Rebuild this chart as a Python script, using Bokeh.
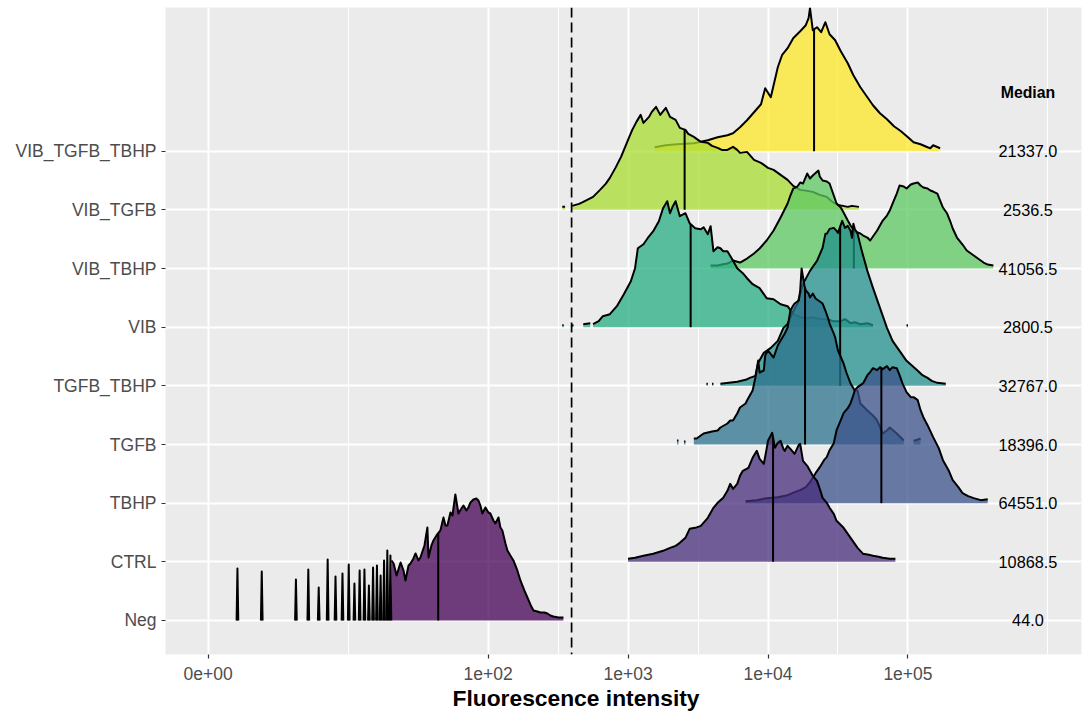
import numpy as np
from bokeh.plotting import figure
from bokeh.models import FixedTicker, Range1d, Span, Title
from bokeh.embed import file_html
from bokeh.resources import INLINE
from bokeh.core.properties import value

NAN = float("nan")

# ---------------------------------------------------------------- data
GROUPS = ["Neg", "CTRL", "TBHP", "TGFB", "TGFB_TBHP", "VIB",
          "VIB_TBHP", "VIB_TGFB", "VIB_TGFB_TBHP"]
COLORS = ["#440154", "#472D7B", "#3B528B", "#2C728E", "#21908C",
          "#27AD81", "#5DC863", "#AADC32", "#FDE725"]
MEDIANS = [44.0, 10868.5, 64551.0, 18396.0, 32767.0, 2800.5,
           41056.5, 2536.5, 21337.0]

GATE = 395  # gating threshold (dashed line)

X_BREAKS = [0, 100, 1000, 10000, 100000]
X_BREAK_LABELS = ["0e+00", "1e+02", "1e+03", "1e+04", "1e+05"]

# Each ridge: grid of log10 intensities and relative density.
# NaN entries split the ridge into separate runs (low-density gaps).
NEG_LOW_VALUES = [1, 2, 4, 5, 6, 7, 8, 9, 10, 11, 12, 13, 14, 15, 16, 17, 18, 19, 20]
NEG_LOW_DENS = [52, 49, 41, 51, 33, 61, 44, 47, 56, 37, 50, 51, 35, 53, 55, 45, 60, 70, 65]

NEG_LOGX = [1.309, 1.324, 1.345, 1.374, 1.395, 1.409, 1.431, 1.445, 1.466, 1.481,
            1.502, 1.516, 1.545, 1.566, 1.574, 1.595, 1.609, 1.631, 1.659, 1.681,
            1.695, 1.709, 1.731, 1.745, 1.766, 1.788, 1.809, 1.824, 1.845, 1.859,
            1.874, 1.895, 1.916, 1.931, 1.945, 1.959, 1.981, 2.002, 2.016, 2.038,
            2.052, 2.074, 2.088, 2.102, 2.124, 2.138, 2.159, 2.181, 2.209, 2.231,
            2.259, 2.281, 2.302, 2.324, 2.352, 2.374, 2.402, 2.424, 2.445, 2.466,
            2.502, 2.538]
NEG_DENS = [60, 57, 45, 58, 50, 40, 55, 57, 62, 67,
            60, 63, 75, 93, 63, 75, 80, 85, 90, 103,
            95, 95, 108, 105, 126, 107, 112, 115, 110, 113,
            118, 121, 122, 120, 115, 107, 113, 108, 107, 100,
            97, 103, 93, 90, 77, 70, 65, 60, 50, 40,
            30, 23, 16, 10, 9, 8, 8, 7, 5, 4,
            3, 3]

CTRL_LOGX = [3.00, 3.05, 3.11, 3.18, 3.25, 3.30, 3.34, 3.37, 3.41, 3.44,
             3.48, 3.52, 3.57, 3.61, 3.64, 3.68, 3.71, 3.73, 3.75, 3.78,
             3.80, 3.82, 3.86, 3.89, 3.92, 3.94, 3.97, 3.99, 4.00, 4.03,
             4.05, 4.07, 4.09, 4.11, 4.12, 4.14, 4.16, 4.19, 4.22, 4.23,
             4.25, 4.28, 4.30, 4.32, 4.35, 4.37, 4.39, 4.42, 4.44, 4.47,
             4.49, 4.54, 4.59, 4.64, 4.68, 4.72, 4.75, 4.79, 4.82, 4.87,
             4.91]
CTRL_DENS = [3, 4, 6, 8, 11, 14, 16, 19, 24, 33,
             34, 36, 44, 54, 59, 64, 71, 78, 73, 78,
             86, 91, 94, 104, 111, 103, 98, 113, 121, 129,
             114, 119, 121, 113, 111, 116, 113, 108, 117, 118,
             101, 96, 91, 86, 81, 73, 64, 59, 54, 48,
             41, 34, 24, 14, 8, 7, 6, 5, 4, 3,
             3]

TBHP_LOGX = [3.84, 3.92, 3.99, 4.07, 4.14, 4.19, 4.23, 4.27, 4.30, 4.34,
             4.37, 4.40, 4.42, 4.44, 4.47, 4.49, 4.52, 4.54, 4.57, 4.59,
             4.61, 4.62, 4.64, 4.68, 4.71, 4.73, 4.75, 4.78, 4.80, 4.82,
             4.85, 4.87, 4.89, 4.92, 4.94, 4.96, 4.99, 5.02, 5.04, 5.07,
             5.09, 5.11, 5.14, 5.18, 5.22, 5.25, 5.29, 5.32, 5.36, 5.39,
             5.43, 5.47, 5.52, 5.57]
TBHP_DENS = [2, 3, 5, 6, 8, 11, 13, 16, 21, 30,
             36, 43, 46, 53, 60, 73, 83, 90, 95, 100,
             108, 113, 116, 120, 128, 131, 135, 133, 136, 134,
             137, 133, 136, 135, 128, 120, 111, 106, 106, 103,
             93, 86, 78, 66, 55, 43, 33, 23, 16, 10,
             7, 5, 3, 4]

TGFB_LOGX = [3.35, 3.36, NAN, 3.40, 3.41, NAN,
             3.47, 3.49, 3.54, 3.57, 3.60, 3.64, 3.66, 3.71, 3.73, 3.75,
             3.78, 3.80, 3.84, 3.85, 3.87, 3.89, 3.91, 3.93, 3.94, 3.97,
             3.98, 4.00, 4.04, 4.07, 4.09, 4.12, 4.14, 4.16, 4.18, 4.19,
             4.22, 4.23, 4.24, 4.26, 4.27, 4.29, 4.30, 4.32, 4.34, 4.36,
             4.39, 4.41, 4.43, 4.44, 4.47, 4.48, 4.50, 4.54, 4.56, 4.59,
             4.62, 4.64, 4.66, 4.71, 4.75, 4.78, 4.82, 4.85, 4.87, 4.92,
             4.97, NAN, 5.04, 5.05, 5.09]
TGFB_DENS = [4, 4, NAN, 3, 3, NAN,
             6, 6, 11, 12, 13, 14, 17, 21, 24, 24,
             31, 37, 41, 44, 49, 54, 67, 84, 72, 74,
             89, 94, 87, 99, 104, 111, 117, 134, 139, 141,
             144, 154, 176, 159, 154, 151, 147, 151, 146, 144,
             141, 134, 126, 121, 111, 107, 94, 81, 72, 61,
             54, 54, 41, 34, 29, 24, 11, 14, 17, 11,
             4, NAN, 4, 4, 6]

TGFB_TBHP_LOGX = [3.56, 3.57, NAN, 3.60, 3.61, NAN,
                  3.66, 3.72, 3.78, 3.84, 3.87, 3.91, 3.93, 3.97, 4.02, 4.07,
                  4.11, 4.14, 4.17, 4.21, 4.23, 4.25, 4.30, 4.35, 4.39, 4.41,
                  4.42, 4.44, 4.47, 4.49, 4.50, 4.53, 4.55, 4.57, 4.59, 4.60,
                  4.61, 4.62, 4.64, 4.67, 4.71, 4.75, 4.80, 4.85, 4.89, 4.94,
                  4.99, 5.03, 5.07, 5.10, 5.14, 5.17, 5.21, 5.27]
TGFB_TBHP_DENS = [2, 2, NAN, 2, 2, NAN,
                  2, 3, 4, 6, 8, 10, 23, 33, 38, 45,
                  58, 62, 72, 82, 92, 102, 115, 125, 138, 152,
                  152, 157, 158, 155, 153, 165, 158, 160, 155, 148,
                  162, 157, 152, 135, 115, 98, 78, 58, 45, 35,
                  25, 20, 15, 11, 8, 5, 3, 2]

VIB_LOGX = [2.53, 2.54, NAN, 2.60, 2.61, NAN, 2.68, 2.73, NAN,
            2.75, 2.79, 2.82, 2.87, 2.92, 2.97, 3.02, 3.05, 3.07, 3.11,
            3.14, 3.18, 3.22, 3.25, 3.28, 3.30, 3.32, 3.34, 3.37, 3.41,
            3.44, 3.48, 3.52, 3.54, 3.57, 3.59, 3.61, 3.64, 3.66, 3.68,
            3.71, 3.74, 3.78, 3.82, 3.85, 3.89, 3.94, 3.99, 4.04, 4.09,
            4.14, 4.18, 4.23, 4.28, 4.32, 4.37, 4.42, 4.47, 4.52, 4.55,
            4.59, 4.62, 4.66, 4.71, 4.75, NAN, 4.99, 5.00]
VIB_DENS = [2, 2, NAN, 2, 2, NAN, 3, 4, NAN,
            3, 6, 11, 13, 21, 33, 46, 59, 79, 83,
            89, 96, 106, 119, 126, 114, 121, 126, 111, 114,
            104, 99, 98, 100, 93, 101, 76, 80, 79, 76,
            76, 69, 59, 54, 49, 43, 39, 29, 28, 23,
            21, 13, 10, 9, 10, 8, 8, 6, 6, 8,
            4, 5, 3, 4, 2, NAN, 2, 2]

VIB_TBHP_LOGX = [3.59, 3.64, 3.67, 3.71, 3.75, 3.80, 3.85, 3.90, 3.94, 3.99,
                 4.04, 4.09, 4.14, 4.16, 4.18, 4.21, 4.23, 4.25, 4.28, 4.30,
                 4.32, 4.36, 4.37, 4.39, 4.42, 4.44, 4.47, 4.49, 4.52, 4.54,
                 4.57, 4.59, 4.61, 4.64, 4.66, 4.68, 4.71, 4.73, 4.75, 4.78,
                 4.80, 4.82, 4.85, 4.87, 4.89, 4.92, 4.94, 4.97, 4.99, 5.02,
                 5.04, 5.07, 5.09, 5.11, 5.14, 5.16, 5.18, 5.21, 5.23, 5.25,
                 5.28, 5.30, 5.32, 5.35, 5.39, 5.42, 5.46, 5.49, 5.54, 5.57,
                 5.61]
VIB_TBHP_DENS = [3, 3, 4, 5, 8, 6, 10, 15, 20, 28,
                 38, 51, 65, 73, 80, 82, 86, 85, 95, 90,
                 93, 98, 92, 88, 87, 85, 73, 65, 61, 56,
                 48, 43, 39, 36, 35, 33, 31, 28, 32, 38,
                 43, 48, 53, 58, 65, 75, 83, 82, 80, 84,
                 85, 86, 83, 81, 80, 78, 77, 75, 68, 61,
                 55, 48, 40, 31, 24, 18, 14, 11, 6, 4,
                 3]

VIB_TGFB_LOGX = [2.53, 2.55, NAN,
                 2.60, 2.65, 2.68, 2.75, 2.80, 2.84, 2.87, 2.91, 2.95, 3.00,
                 3.03, 3.06, 3.09, 3.11, 3.15, 3.17, 3.20, 3.23, 3.27, 3.30,
                 3.34, 3.37, 3.41, 3.43, 3.47, 3.52, 3.57, 3.60, 3.64, 3.67,
                 3.71, 3.75, 3.78, 3.80, 3.85, 3.90, 3.95, 4.00, 4.04, 4.09,
                 4.14, 4.18, 4.23, 4.28, 4.32, 4.37, 4.42, 4.46, 4.50, 4.57,
                 4.60, 4.65]
VIB_TGFB_DENS = [3, 3, NAN,
                 4, 6, 8, 13, 20, 26, 32, 42, 53, 70,
                 80, 88, 95, 87, 93, 98, 103, 95, 102, 93,
                 90, 82, 80, 76, 73, 68, 67, 64, 62, 60,
                 60, 63, 60, 57, 58, 50, 47, 42, 40, 35,
                 30, 24, 20, 19, 18, 15, 13, 8, 5, 3,
                 4, 3]

VIB_TGFB_TBHP_LOGX = [3.19, 3.27, 3.35, 3.47, 3.57, 3.64, 3.71, 3.75, 3.80, 3.85,
                      3.90, 3.95, 3.98, 4.02, 4.07, 4.10, 4.14, 4.18, 4.23, 4.27,
                      4.29, 4.30, 4.32, 4.35, 4.38, 4.41, 4.44, 4.48, 4.52, 4.57,
                      4.61, 4.66, 4.71, 4.75, 4.80, 4.85, 4.90, 4.95, 5.00, 5.04,
                      5.09, 5.14, 5.16, 5.18, 5.23]
VIB_TGFB_TBHP_DENS = [4, 6, 7, 8, 11, 14, 16, 18, 24, 31,
                      39, 47, 63, 54, 84, 96, 103, 113, 120, 126,
                      133, 143, 121, 124, 119, 129, 117, 111, 100, 88,
                      76, 64, 54, 46, 38, 32, 25, 20, 14, 9,
                      7, 4, 3, 6, 3]

RIDGE_LOGX = [NEG_LOGX, CTRL_LOGX, TBHP_LOGX, TGFB_LOGX, TGFB_TBHP_LOGX,
              VIB_LOGX, VIB_TBHP_LOGX, VIB_TGFB_LOGX, VIB_TGFB_TBHP_LOGX]
RIDGE_DENS = [NEG_DENS, CTRL_DENS, TBHP_DENS, TGFB_DENS, TGFB_TBHP_DENS,
              VIB_DENS, VIB_TBHP_DENS, VIB_TGFB_DENS, VIB_TGFB_TBHP_DENS]

# ---------------------------------------------------------------- helpers
LN10 = np.log(10.0)


def pseudo_log(v):
    """Pseudo-log10 scale (asinh based, sigma = 1) used on the x axis."""
    return np.arcsinh(np.asarray(v, dtype=float) / 2.0) / LN10


def split_runs(pos, h):
    runs, cx, ch = [], [], []
    for x, y in zip(pos, h):
        if np.isnan(x) or np.isnan(y):
            if cx:
                runs.append((cx, ch))
            cx, ch = [], []
        else:
            cx.append(float(x))
            ch.append(float(y))
    if cx:
        runs.append((cx, ch))
    return runs


RIDGE_SCALE = 3.0          # tallest ridge spans three rows
SPIKE_HALF = 0.006         # half width of single-value spikes (axis units)
FILL_ALPHA = 0.75

dens_max = max(np.nanmax(np.asarray(d, dtype=float)) for d in RIDGE_DENS + [NEG_LOW_DENS])

ridges = []
for k in range(len(GROUPS)):
    pos = pseudo_log(10.0 ** np.asarray(RIDGE_LOGX[k], dtype=float))
    h = np.asarray(RIDGE_DENS[k], dtype=float) / dens_max * RIDGE_SCALE
    runs = split_runs(pos, h)
    if GROUPS[k] == "Neg":
        spikes = []
        for v, d in zip(NEG_LOW_VALUES, NEG_LOW_DENS):
            c = float(pseudo_log(v))
            spikes.append(([c - SPIKE_HALF, c, c + SPIKE_HALF],
                           [0.0, d / dens_max * RIDGE_SCALE, 0.0]))
        runs = spikes + runs
    ridges.append(runs)


def height_at(runs, x):
    for rx, rh in runs:
        if rx[0] <= x <= rx[-1]:
            return float(np.interp(x, rx, rh))
    return 0.0


# ---------------------------------------------------------------- figure
X_LO, X_HI = -0.305, 6.24
Y_LO, Y_HI = -0.58, 10.45

p = figure(width=1083, height=713, output_backend="svg", toolbar_location=None,
           x_range=Range1d(X_LO, X_HI), y_range=Range1d(Y_LO, Y_HI),
           min_border_left=165, min_border_right=2, min_border_top=7,
           min_border_bottom=59)
p.background_fill_color = "#EBEBEB"
p.border_fill_color = "white"
p.outline_line_color = None

# x axis: pseudo-log breaks, minor lines halfway between breaks
major_pos = [round(float(pseudo_log(b)), 3) for b in X_BREAKS]
ext = major_pos + [major_pos[-1] + (major_pos[1] - major_pos[0])]
minor_pos = [(a + b) / 2 for a, b in zip(ext[:-1], ext[1:])]
xticker = FixedTicker(ticks=major_pos, minor_ticks=minor_pos)
p.xaxis.ticker = xticker
p.xaxis.major_label_overrides = {m: lab for m, lab in zip(major_pos, X_BREAK_LABELS)}
p.xgrid.ticker = xticker

yticker = FixedTicker(ticks=list(range(len(GROUPS))), minor_ticks=[])
p.yaxis.ticker = yticker
p.yaxis.major_label_overrides = {i: g for i, g in enumerate(GROUPS)}
p.ygrid.ticker = yticker

for ax in (p.xaxis[0], p.yaxis[0]):
    ax.axis_line_color = None
    ax.major_tick_line_color = "#333333"
    ax.major_tick_line_width = 1.2
    ax.major_tick_in = 0
    ax.major_tick_out = 4
    ax.minor_tick_line_color = None
    ax.major_label_text_font = "Liberation Sans"
    ax.major_label_text_font_size = "17.5px"
    ax.major_label_text_color = "#4D4D4D"
p.xaxis.major_label_standoff = 8
p.yaxis.major_label_standoff = 5

p.xgrid.grid_line_color = "white"
p.xgrid.grid_line_width = 2
p.xgrid.minor_grid_line_color = "white"
p.xgrid.minor_grid_line_width = 1
p.ygrid.grid_line_color = "white"
p.ygrid.grid_line_width = 2

# ridges: back rows first so lower rows overlap them
for k in reversed(range(len(GROUPS))):
    runs = ridges[k]
    fx = [[rx[0]] + rx + [rx[-1]] for rx, rh in runs]
    fy = [[k] + [k + v for v in rh] + [k] for rx, rh in runs]
    p.patches(fx, fy, fill_color=COLORS[k], fill_alpha=FILL_ALPHA, line_color=None)
    m = float(pseudo_log(MEDIANS[k]))
    p.segment(x0=[m], y0=[k], x1=[m], y1=[k + height_at(runs, m)],
              line_color="black", line_width=2)
    p.multi_line([rx for rx, rh in runs], [[k + v for v in rh] for rx, rh in runs],
                 line_color="black", line_width=2, line_join="round")

# median column
MEDIAN_COL_X = float(pseudo_log(7.2e5))
p.text(x=[MEDIAN_COL_X] * len(GROUPS), y=list(range(len(GROUPS))),
       text=[f"{m:.1f}" for m in MEDIANS],
       text_font=value("Liberation Sans"), text_font_size="16.3px",
       text_align="center", text_baseline="middle", text_color="black")
p.text(x=[MEDIAN_COL_X], y=[len(GROUPS)], text=["Median"],
       text_font=value("Liberation Sans"), text_font_size="15.8px",
       text_font_style="bold", text_align="center", text_baseline="middle",
       text_color="black")

# gate
p.add_layout(Span(location=float(pseudo_log(GATE)), dimension="height",
                  line_color="black", line_width=1.7, line_dash="10 5"))

# x axis title, set a little left of the panel centre
p.add_layout(Title(text="Fluorescence intensity", align="left", offset=287,
                   text_font="Liberation Sans", text_font_style="bold",
                   text_font_size="22.8px", text_color="black", standoff=0),
             "below")

open("out.html", "w").write(file_html(p, INLINE))
